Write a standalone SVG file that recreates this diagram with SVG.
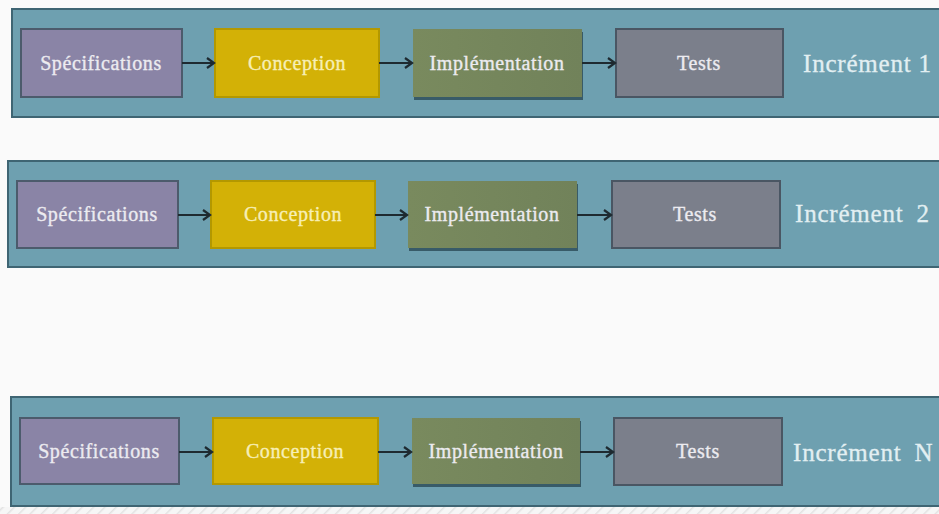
<svg xmlns="http://www.w3.org/2000/svg" width="939" height="514" viewBox="0 0 939 514">
<style>
.band{fill:#6ea0b0;stroke:#3f6573;stroke-width:2}
.spec{fill:#8a84a6;stroke:#4c5b6c;stroke-width:2}
.conc{fill:#d3b106;stroke:#b39800;stroke-width:2}
.impl{fill:url(#gImpl)}
.shadow{fill:#2f4f5c;opacity:0.85}
.test{fill:#7b7f8b;stroke:#4a5663;stroke-width:2}
.lbl{font-family:"Liberation Serif","DejaVu Serif",serif;font-size:20px;fill:#ecebf0;stroke:#ecebf0;stroke-width:0.35px;text-anchor:middle;letter-spacing:0.6px}
.lblc{fill:#f7efb6;stroke:#f7efb6}
.inc{font-family:"Liberation Serif","DejaVu Serif",serif;font-size:25px;fill:#e2eff2;stroke:#e2eff2;stroke-width:0.3px;letter-spacing:0.8px}
.arr{stroke:#1e2a30;stroke-width:2;fill:none;marker-end:url(#ah)}
</style>
<defs>
<marker id="ah" markerWidth="12" markerHeight="12" refX="8" refY="6" orient="auto" markerUnits="userSpaceOnUse">
<path d="M1,1 L8,6 L1,11" fill="none" stroke="#1e2a30" stroke-width="2.2"/>
</marker>
<linearGradient id="gImpl" x1="0" y1="0" x2="1" y2="0">
<stop offset="0" stop-color="#798a5e"/>
<stop offset="1" stop-color="#71825a"/>
</linearGradient>
<pattern id="hatch" width="8" height="8" patternUnits="userSpaceOnUse" patternTransform="rotate(45)">
<rect width="8" height="8" fill="#f6f6f6"/>
<line x1="0" y1="0" x2="0" y2="8" stroke="#e2e2e2" stroke-width="3"/>
</pattern>
</defs>
<rect x="0" y="0" width="939" height="514" fill="#fafafa"/>
<rect x="0" y="507" width="939" height="7" fill="url(#hatch)"/>

<g id="band1">
<rect class="band" x="12" y="9" width="930" height="108"/>
<text class="inc" x="803" y="72">Incrément 1</text>
</g>
<g id="band2">
<rect class="band" x="8" y="161" width="934" height="106"/>
<text class="inc" x="795" y="222" word-spacing="6">Incrément 2</text>
</g>
<g id="band3">
<rect class="band" x="11" y="397" width="931" height="109"/>
<text class="inc" x="793" y="461" word-spacing="6">Incrément N</text>
</g>

<g id="spec1"><rect class="spec" x="21" y="29" width="161" height="68"/><text class="lbl" x="101" y="70">Spécifications</text></g>
<g id="conc1"><rect class="conc" x="215" y="29" width="164" height="68"/><text class="lbl lblc" x="297" y="70">Conception</text></g>
<g id="impl1"><rect class="shadow" x="414" y="32" width="169" height="68"/><rect class="impl" x="413" y="29" width="169" height="68"/><text class="lbl" x="497" y="70">Implémentation</text></g>
<g id="test1"><rect class="test" x="616" y="29" width="167" height="68"/><text class="lbl" x="699" y="70">Tests</text></g>

<g id="spec2"><rect class="spec" x="17" y="181" width="161" height="67"/><text class="lbl" x="97" y="221">Spécifications</text></g>
<g id="conc2"><rect class="conc" x="211" y="181" width="164" height="67"/><text class="lbl lblc" x="293" y="221">Conception</text></g>
<g id="impl2"><rect class="shadow" x="409" y="184" width="169" height="67"/><rect class="impl" x="408" y="181" width="169" height="67"/><text class="lbl" x="492" y="221">Implémentation</text></g>
<g id="test2"><rect class="test" x="612" y="181" width="168" height="67"/><text class="lbl" x="695" y="221">Tests</text></g>

<g id="spec3"><rect class="spec" x="20" y="418" width="159" height="66"/><text class="lbl" x="99" y="458">Spécifications</text></g>
<g id="conc3"><rect class="conc" x="213" y="418" width="165" height="66"/><text class="lbl lblc" x="295" y="458">Conception</text></g>
<g id="impl3"><rect class="shadow" x="413" y="421" width="168" height="66"/><rect class="impl" x="412" y="418" width="168" height="66"/><text class="lbl" x="496" y="458">Implémentation</text></g>
<g id="test3"><rect class="test" x="614" y="418" width="168" height="67"/><text class="lbl" x="698" y="458">Tests</text></g>

<g id="connectors">
<line class="arr" x1="182" y1="63" x2="214" y2="63"/>
<line class="arr" x1="379" y1="63" x2="412" y2="63"/>
<line class="arr" x1="582" y1="63" x2="615" y2="63"/>
<line class="arr" x1="178" y1="215" x2="210" y2="215"/>
<line class="arr" x1="375" y1="215" x2="407" y2="215"/>
<line class="arr" x1="577" y1="215" x2="611" y2="215"/>
<line class="arr" x1="179" y1="452" x2="212" y2="452"/>
<line class="arr" x1="378" y1="452" x2="411" y2="452"/>
<line class="arr" x1="580" y1="452" x2="613" y2="452"/>
</g>
</svg>
